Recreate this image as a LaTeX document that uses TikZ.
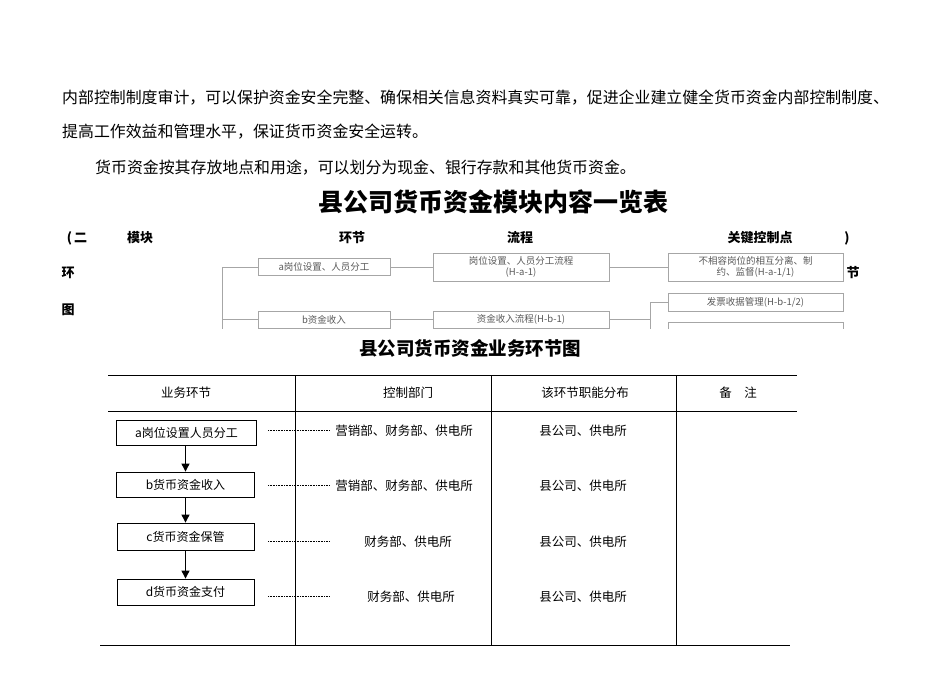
\documentclass[tikz,border=0pt]{standalone}
\usepackage{fontspec}
\setmainfont{Noto Sans CJK SC}
\usetikzlibrary{arrows.meta}
\begin{document}
\begin{tikzpicture}[x=1pt,y=-1pt,
  body/.style={anchor=west,font=\fontsize{15.9}{18}\selectfont,inner sep=0},
  hd/.style={font=\fontsize{13}{15}\selectfont\bfseries,inner sep=0},
  sb/.style={draw=gray!70,line width=0.9pt,inner sep=0,font=\fontsize{9.5}{11}\selectfont,text=gray!70!black,align=center},
  gl/.style={draw=gray!70,line width=0.9pt},
  fb/.style={draw,line width=0.8pt,inner sep=0,font=\fontsize{12}{14}\selectfont},
  tl/.style={line width=0.8pt},
  tx/.style={font=\fontsize{12.5}{14}\selectfont,inner sep=0},
  dl/.style={densely dotted,line width=0.6pt}]
\useasboundingbox (0,0) rectangle (950,672);
\node[body] (l1) at (62,98) {内部控制制度审计，可以保护资金安全完整、确保相关信息资料真实可靠，促进企业建立健全货币资金内部控制制度、};
\node[body] (l2) at (62,132) {提高工作效益和管理水平，保证货币资金安全运转。};
\node[body] (l3) at (95,168) {货币资金按其存放地点和用途，可以划分为现金、银行存款和其他货币资金。};
\node[font=\fontsize{25}{27}\selectfont\bfseries,inner sep=0] (t1) at (493,202) {县公司货币资金模块内容一览表};
\node[hd] (p1) at (77,238) {(\,二};
\node[hd] (h1) at (140,238) {模块};
\node[hd] (h2) at (352,238) {环节};
\node[hd] (h3) at (520,238) {流程};
\node[hd] (h4) at (760,238) {关键控制点};
\node[hd] (p2) at (847,238) {)};
\node[hd] (c1) at (68,273) {环};
\node[hd] (c2) at (853,273) {节};
\node[hd] (c3) at (68,310) {图};
\begin{scope}
\clip (200,245) rectangle (860,328);
\node[sb,minimum width=132,minimum height=17] (ma) at (324,267) {a岗位设置、人员分工};
\node[sb,minimum width=176,minimum height=28] (fa) at (521,267) {岗位设置、人员分工流程\\(H-a-1)};
\node[sb,minimum width=175,minimum height=28] (ka) at (755.5,267) {不相容岗位的相互分离、制\\约、监督(H-a-1/1)};
\node[sb,minimum width=132,minimum height=17] (mb) at (324,319.5) {b资金收入};
\node[sb,minimum width=176,minimum height=17] (fb1) at (521,319.5) {资金收入流程(H-b-1)};
\node[sb,minimum width=175,minimum height=18] (kb) at (755.5,302) {发票收据管理(H-b-1/2)};
\node[sb,minimum width=175,minimum height=18] (kc) at (755.5,331) {};
\coordinate (v0) at (222,267);
\coordinate (v1) at (222,340);
\coordinate (w0) at (650,302);
\coordinate (w1) at (650,340);
\draw[gl] (v0) -- (v1);
\draw[gl] (v0) -- (ma.west);
\draw[gl] (222,319.5) -- (mb.west);
\draw[gl] (ma) -- (fa);
\draw[gl] (fa) -- (ka);
\draw[gl] (mb) -- (fb1);
\draw[gl] (fb1.east) -- (650,319.5);
\draw[gl] (w0) -- (w1);
\draw[gl] (w0) -- (kb.west);
\end{scope}
\node[font=\fontsize{18.5}{20}\selectfont\bfseries,inner sep=0] (t2) at (470,348) {县公司货币资金业务环节图};
\draw[tl] (108,375) -- (797,375);
\draw[tl] (108,411) -- (797,411);
\draw[tl] (100,645) -- (790,645);
\foreach \x in {295,491,676} \draw[tl] (\x,375) -- (\x,645);
\node[tx] (g1) at (186,393) {业务环节};
\node[tx] (g2) at (408,393) {控制部门};
\node[tx] (g3) at (585,393) {该环节职能分布};
\node[tx] (g4) at (738,393) {备\quad 注};
\node[fb,minimum width=140,minimum height=25] (ba) at (186.5,432.5) {a岗位设置人员分工};
\node[fb,minimum width=138,minimum height=25] (bb) at (185.5,484.5) {b货币资金收入};
\node[fb,minimum width=137,minimum height=27] (bc) at (185.5,536.5) {c货币资金保管};
\node[fb,minimum width=137,minimum height=26] (bd) at (185.5,592) {d货币资金支付};
\foreach \a/\b in {ba/bb,bb/bc,bc/bd}
  \draw[-{Triangle[length=8pt,width=8pt]},line width=0.9pt] (\a.south -| \b.north) -- (\b.north);
\foreach \n/\y/\d/\e/\xx in {1/431/营销部、财务部、供电所/县公司、供电所/404,2/486/营销部、财务部、供电所/县公司、供电所/404,3/542/财务部、供电所/县公司、供电所/408,4/597/财务部、供电所/县公司、供电所/411}{
  \coordinate (s\n) at (268,\y-1);
  \coordinate (e\n) at (330,\y-1);
  \draw[dl] (s\n) -- (e\n);
  \node[tx] (d\n) at (\xx,\y) {\d};
  \node[tx] (f\n) at (583,\y) {\e};
}
\end{tikzpicture}
\end{document}
